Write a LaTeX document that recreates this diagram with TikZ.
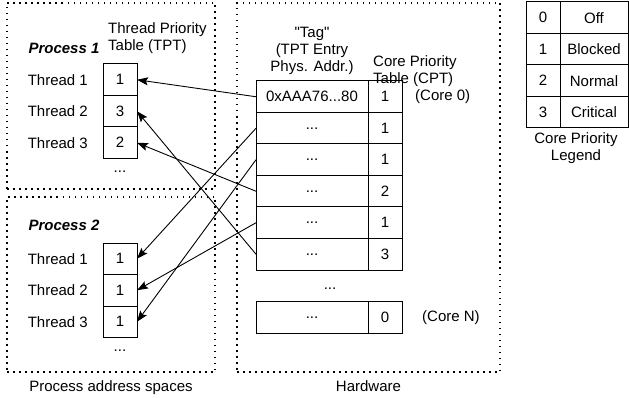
\documentclass[tikz,border=0pt]{standalone}
\usepackage{fontspec}
\setmainfont{Liberation Sans}
\newfontfamily\quotefont{Liberation Sans}[Ligatures=TeXOff]
\usetikzlibrary{arrows.meta,positioning}

\begin{document}
\begin{tikzpicture}[x=1pt, y=-1pt, node distance=0pt,
  font=\fontsize{15}{17}\selectfont,
  space/.style={rectangle, draw, line width=1.2pt, dash pattern=on 1.5pt off 4.5pt, inner sep=0pt},
  cell/.style={rectangle, draw, line width=1pt, minimum width=34pt, minimum height=31.5pt, inner sep=0pt, outer sep=0pt},
  tagcell/.style={cell, minimum width=112pt},
  namecell/.style={cell, minimum width=68pt},
  thread/.style={left=15pt of #1, inner sep=0pt},
  more/.style={inner sep=0pt},
  title/.style={font=\fontsize{15}{17}\selectfont\bfseries\itshape, inner sep=0pt},
  head/.style={inner sep=0pt},
  ptr/.style={line width=0.9pt, -{Stealth[length=11pt, width=8pt, inset=2pt]}}]

\useasboundingbox (0,0) rectangle (629,398);

% Regions
\node[space, minimum width=208pt, minimum height=186pt] (p1box) at (111,96) {};
\node[space, minimum width=208pt, minimum height=175pt] (p2box) at (111,284.5) {};
\node[space, minimum width=263pt, minimum height=369pt] (hwbox) at (368.5,187.5) {};
\node[head, below=7.5pt of p2box] (p2cap) {Process address spaces};
\node[head, below=7.5pt of hwbox] (hwcap) {Hardware};

% Process 1
\node[title] (p1) at (64,48) {Process 1};
\node[head, align=left, anchor=north west] (tpt1) at (108,22.5) {Thread Priority\\Table (TPT)};
\node[cell] (p1c1) at (120,79.75) {1};
\node[cell, below=of p1c1] (p1c2) {3};
\node[cell, below=of p1c2] (p1c3) {2};
\node[thread=p1c1] (p1t1) {Thread 1};
\node[thread=p1c2] (p1t2) {Thread 2};
\node[thread=p1c3] (p1t3) {Thread 3};
\node[more, below=12pt of p1c3] (p1more) {...};

% Process 2
\node[title] (p2) at (64,225) {Process 2};
\node[cell] (p2c1) at (120,258.75) {1};
\node[cell, below=of p2c1] (p2c2) {1};
\node[cell, below=of p2c2] (p2c3) {1};
\node[thread=p2c1] (p2t1) {Thread 1};
\node[thread=p2c2] (p2t2) {Thread 2};
\node[thread=p2c3] (p2t3) {Thread 3};
\node[more, below=12pt of p2c3] (p2more) {...};

% Hardware: tags and core priorities
\node[tagcell] (tag1) at (312,96.75) {0xAAA76...80};
\node[tagcell, below=of tag1] (tag2) {...};
\node[tagcell, below=of tag2] (tag3) {...};
\node[tagcell, below=of tag3] (tag4) {...};
\node[tagcell, below=of tag4] (tag5) {...};
\node[tagcell, below=of tag5] (tag6) {...};
\node[cell, right=of tag1] (cpt1) {1};
\node[cell, right=of tag2] (cpt2) {1};
\node[cell, right=of tag3] (cpt3) {1};
\node[cell, right=of tag4] (cpt4) {2};
\node[cell, right=of tag5] (cpt5) {1};
\node[cell, right=of tag6] (cpt6) {3};
\node[more] (hwmore) at (330,289) {...};
\node[tagcell] (tagN) at (312,317.5) {...};
\node[cell, right=of tagN] (cptN) {0};

\node[head, align=center, above=6pt of tag1] (taghead) {{\quotefont"}Tag{\quotefont"}\\(TPT Entry\\Phys. Addr.)};
\node[head, align=left, anchor=south west] (cpthead) at ([shift={(5pt,-6pt)}]cpt1.north west) {Core Priority\\Table (CPT)};
\node[head, right=13pt of cpt1] (core0) {(Core 0)};
\node[head, right=20pt of cptN] (coreN) {(Core N)};

% Legend
\node[cell] (l0) at (543,17.75) {0};
\node[cell, below=of l0] (l1) {1};
\node[cell, below=of l1] (l2) {2};
\node[cell, below=of l2] (l3) {3};
\node[namecell, right=of l0] (off) {Off};
\node[namecell, right=of l1] (blocked) {Blocked};
\node[namecell, right=of l2] (normal) {Normal};
\node[namecell, right=of l3] (critical) {Critical};
\node[head, align=center, anchor=north] (legcap) at (576,132) {Core Priority\\Legend};

% Pointers
\draw[ptr] (tag1.west) -- (p1c1.east);
\draw[ptr] (tag2.west) -- (p2c1.east);
\draw[ptr] (tag3.west) -- (p2c3.east);
\draw[ptr] (tag4.west) -- (p1c3.east);
\draw[ptr] (tag5.west) -- (p2c2.east);
\draw[ptr] (tag6.west) -- (p1c2.east);

\end{tikzpicture}
\end{document}
